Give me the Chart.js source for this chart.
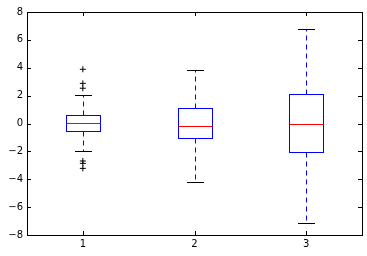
<!DOCTYPE html>
<html>
<head>
<meta charset="utf-8">
<script src="https://cdn.jsdelivr.net/npm/chart.js@4/dist/chart.umd.min.js"></script>
<style>
  html, body { margin: 0; padding: 0; background: #fff; }
  canvas { display: block; }
</style>
</head>
<body>
<canvas id="chart1" width="367" height="256"></canvas>
<script>
// valeurs
const categories = ['1', '2', '3'];
const q1 = [-0.56, -1.04, -2.07];
const q3 = [0.59, 1.09, 2.09];
const medians = [0.01, -0.20, -0.06];
const whiskerLow = [-1.95, -4.22, -7.17];
const whiskerHigh = [2.02, 3.82, 6.81];
const outliers = [[3.89, 2.88, 2.53, -2.69, -2.86, -3.22], [], []];
const yTicks = [-8, -6, -4, -2, 0, 2, 4, 6, 8];

const px = v => Math.round(v) + 0.5;

// moustaches, médianes, contours des boîtes, cadre et graduations intérieures
const boxPlugin = {
    id: 'boxPlugin',
    afterDatasetsDraw(chart) {
        const ctx = chart.ctx;
        const xs = chart.scales.x;
        const ys = chart.scales.y;
        const bars = chart.getDatasetMeta(0).data;
        ctx.save();
        ctx.lineWidth = 1;
        categories.forEach((c, i) => {
            const x = px(xs.getPixelForValue(i));
            const half = Math.round(bars[i].width / 2);
            const yTop = px(ys.getPixelForValue(q3[i]));
            const yBot = px(ys.getPixelForValue(q1[i]));
            // moustaches en tirets
            ctx.strokeStyle = '#0000ff';
            ctx.setLineDash([5, 4]);
            ctx.beginPath();
            ctx.moveTo(x, yTop);
            ctx.lineTo(x, px(ys.getPixelForValue(whiskerHigh[i])));
            ctx.moveTo(x, yBot);
            ctx.lineTo(x, px(ys.getPixelForValue(whiskerLow[i])));
            ctx.stroke();
            ctx.setLineDash([]);
            // boîte
            ctx.strokeRect(x - half, yTop, half * 2, yBot - yTop);
            // extrémités
            ctx.strokeStyle = '#000';
            ctx.beginPath();
            [whiskerHigh[i], whiskerLow[i]].forEach(v => {
                const y = px(ys.getPixelForValue(v));
                ctx.moveTo(x - half / 2, y);
                ctx.lineTo(x + half / 2, y);
            });
            ctx.stroke();
            // médiane
            ctx.strokeStyle = '#ff0000';
            ctx.beginPath();
            const ym = px(ys.getPixelForValue(medians[i]));
            ctx.moveTo(x - half, ym);
            ctx.lineTo(x + half, ym);
            ctx.stroke();
        });
        ctx.restore();
    },
    afterDraw(chart) {
        const ctx = chart.ctx;
        const a = chart.chartArea;
        const xs = chart.scales.x;
        const ys = chart.scales.y;
        ctx.save();
        ctx.strokeStyle = '#000';
        ctx.lineWidth = 1;
        ctx.beginPath();
        ys.ticks.forEach(t => {
            const y = px(ys.getPixelForValue(t.value));
            ctx.moveTo(a.left, y); ctx.lineTo(a.left + 4, y);
            ctx.moveTo(a.right, y); ctx.lineTo(a.right - 4, y);
        });
        categories.forEach((c, i) => {
            const x = px(xs.getPixelForValue(i));
            ctx.moveTo(x, a.bottom); ctx.lineTo(x, a.bottom - 4);
            ctx.moveTo(x, a.top); ctx.lineTo(x, a.top + 4);
        });
        ctx.stroke();
        ctx.strokeRect(px(a.left), px(a.top), Math.round(a.right - a.left), Math.round(a.bottom - a.top));
        ctx.restore();
    }
};

const outlierPoints = [];
outliers.forEach((list, i) => {
    list.forEach(v => outlierPoints.push({ x: categories[i], y: v }));
});

new Chart(document.getElementById('chart1').getContext('2d'), {
    data: {
        labels: categories,
        datasets: [{
            type: 'bar',
            data: categories.map((c, i) => [q1[i], q3[i]]),
            backgroundColor: '#ffffff',
            borderWidth: 0,
            barPercentage: 0.3,
            categoryPercentage: 1
        }, {
            type: 'line',
            data: outlierPoints,
            showLine: false,
            pointStyle: 'cross',
            pointRadius: 3,
            borderColor: '#000',
            borderWidth: 1
        }]
    },
    options: {
        responsive: false,
        animation: false,
        devicePixelRatio: 1,
        layout: { padding: { top: 12, right: 5, left: 0, bottom: 0 } },
        plugins: { legend: { display: false }, tooltip: { enabled: false } },
        scales: {
            x: {
                type: 'category',
                offset: true,
                grid: { display: false, drawTicks: false },
                border: { display: false },
                ticks: { color: '#000', padding: 3, font: { family: 'DejaVu Sans', size: 10 } },
                afterFit: s => { s.height = 21; }
            },
            y: {
                min: -8,
                max: 8,
                grid: { display: false, drawTicks: false },
                border: { display: false },
                afterBuildTicks: s => { s.ticks = yTicks.map(v => ({ value: v })); },
                ticks: {
                    color: '#000',
                    padding: 4,
                    font: { family: 'DejaVu Sans', size: 10 },
                    callback: v => String(v).replace('-', '\u2212')
                },
                afterFit: s => { s.width = 27; }
            }
        }
    },
    plugins: [boxPlugin]
});
</script>
</body>
</html>
